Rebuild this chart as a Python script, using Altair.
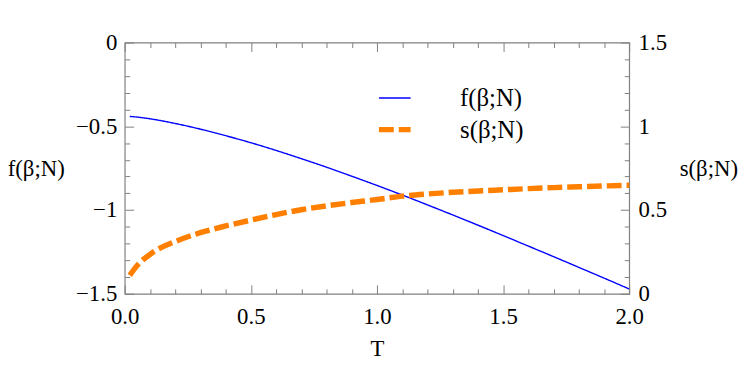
import altair as alt
import pandas as pd

# ---- data ----
T = [0.02, 0.05, 0.1, 0.15, 0.2, 0.3, 0.4, 0.5, 0.6, 0.7, 0.8, 0.9, 1.0,
     1.1, 1.2, 1.3, 1.4, 1.5, 1.6, 1.7, 1.8, 1.9, 2.0]
f_vals = [-0.441, -0.445, -0.455, -0.468, -0.483, -0.517, -0.556, -0.598,
          -0.644, -0.693, -0.744, -0.798, -0.853, -0.910, -0.969, -1.029,
          -1.090, -1.152, -1.215, -1.278, -1.342, -1.406, -1.471]
s_vals = [0.11, 0.17, 0.235, 0.28, 0.312, 0.365, 0.405, 0.44, 0.473, 0.502,
          0.525, 0.545, 0.563, 0.583, 0.596, 0.606, 0.614, 0.621, 0.628,
          0.634, 0.639, 0.644, 0.648]
series_names = ["f(β;N)", "s(β;N)"]
series_colors = ["#0000ff", "#ff8000"]

x_major = [0.0, 0.5, 1.0, 1.5, 2.0]
x_minor = [0.1, 0.2, 0.3, 0.4, 0.6, 0.7, 0.8, 0.9, 1.1, 1.2, 1.3, 1.4,
           1.6, 1.7, 1.8, 1.9]
f_major = [-1.5, -1.0, -0.5, 0.0]
f_minor = [-1.4, -1.3, -1.2, -1.1, -0.9, -0.8, -0.7, -0.6, -0.4, -0.3,
           -0.2, -0.1]
s_major = [0.0, 0.5, 1.0, 1.5]

df_f = pd.DataFrame({"T": T, "value": f_vals, "series": series_names[0]})
df_s = pd.DataFrame({"T": T, "value": s_vals, "series": series_names[1]})

W, H = 510, 254
FONT = "Liberation Serif"
GRAY = "#808080"

xs = alt.Scale(domain=[0, 2], nice=False, zero=False)
fs = alt.Scale(domain=[-1.5, 0], nice=False, zero=False)
ss = alt.Scale(domain=[0, 1.5], nice=False, zero=False)

legend = alt.Legend(title=None, orient="none", legendX=254, legendY=39,
                    padding=0, symbolType="stroke", symbolSize=1024,
                    labelFont=FONT, labelFontSize=25, labelColor="black",
                    labelOffset=47, rowPadding=0)
color = alt.Color("series:N", scale=alt.Scale(domain=series_names, range=series_colors), legend=legend)
dash = alt.StrokeDash("series:N", scale=alt.Scale(domain=series_names, range=[[1, 0], [15, 5]]), legend=legend)
swidth = alt.StrokeWidth("series:N", scale=alt.Scale(domain=series_names, range=[1.4, 5.5]), legend=legend)

label_style = dict(labelFont=FONT, labelFontSize=23, labelColor="black",
                   labelFlush=False, labelOverlap=False, ticks=False,
                   domain=False, grid=False, tickSize=0)
title_style = dict(titleFont=FONT, titleFontSize=23, titleFontWeight="normal",
                   titleColor="black")

f_line = alt.Chart(df_f).mark_line(interpolate="monotone").encode(
    x=alt.X("T:Q", scale=xs, axis=alt.Axis(
        orient="bottom", values=x_major, format=".1f", labelPadding=12,
        labelAlign="center", labelBaseline="top",
        title="T", titleY=55, titleBaseline="middle", **label_style, **title_style)),
    y=alt.Y("value:Q", scale=fs, axis=alt.Axis(
        orient="left", values=f_major, format="~g", labelPadding=8,
        labelAlign="right", labelBaseline="middle",
        title="f(β;N)", titleAngle=0, titleX=-90, titleY=H / 2,
        titleAlign="center", titleBaseline="middle", **label_style, **title_style)),
    color=color, strokeDash=dash, strokeWidth=swidth,
)

s_line = alt.Chart(df_s).mark_line(interpolate="monotone").encode(
    x=alt.X("T:Q", scale=xs, axis=None),
    y=alt.Y("value:Q", scale=ss, axis=alt.Axis(
        orient="right", values=s_major, format="~g", labelPadding=9,
        labelAlign="left", labelBaseline="middle",
        title="s(β;N)", titleAngle=0, titleX=80, titleY=H / 2,
        titleAlign="center", titleBaseline="middle", **label_style, **title_style)),
    color=color, strokeDash=dash, strokeWidth=swidth,
)


def tick_layer(x_orient, y_orient, xvals, yvals, size):
    tick_style = dict(labels=False, domain=False, grid=False, ticks=True,
                      tickSize=size, tickColor=GRAY, tickWidth=1, title=None)
    return alt.Chart(df_f).mark_line(opacity=0).encode(
        x=alt.X("T:Q", scale=xs, axis=alt.Axis(orient=x_orient, offset=-H, values=xvals, **tick_style)),
        y=alt.Y("value:Q", scale=fs, axis=alt.Axis(orient=y_orient, offset=-W, values=yvals, **tick_style)),
    )


chart = alt.layer(
    tick_layer("top", "right", x_major, f_major, 9),
    tick_layer("top", "right", x_minor, f_minor, 5),
    tick_layer("bottom", "left", x_major, f_major, 9),
    tick_layer("bottom", "left", x_minor, f_minor, 5),
    f_line,
    s_line,
).resolve_scale(y="independent").resolve_axis(
    x="independent", y="independent"
).properties(
    width=W, height=H,
    autosize=alt.AutoSizeParams(type="none"),
    padding={"left": 118, "top": 33, "right": 111, "bottom": 67},
).configure_view(stroke=GRAY, strokeWidth=1.2)

chart.save("out.html", embed_options={"renderer": "svg", "actions": False})
